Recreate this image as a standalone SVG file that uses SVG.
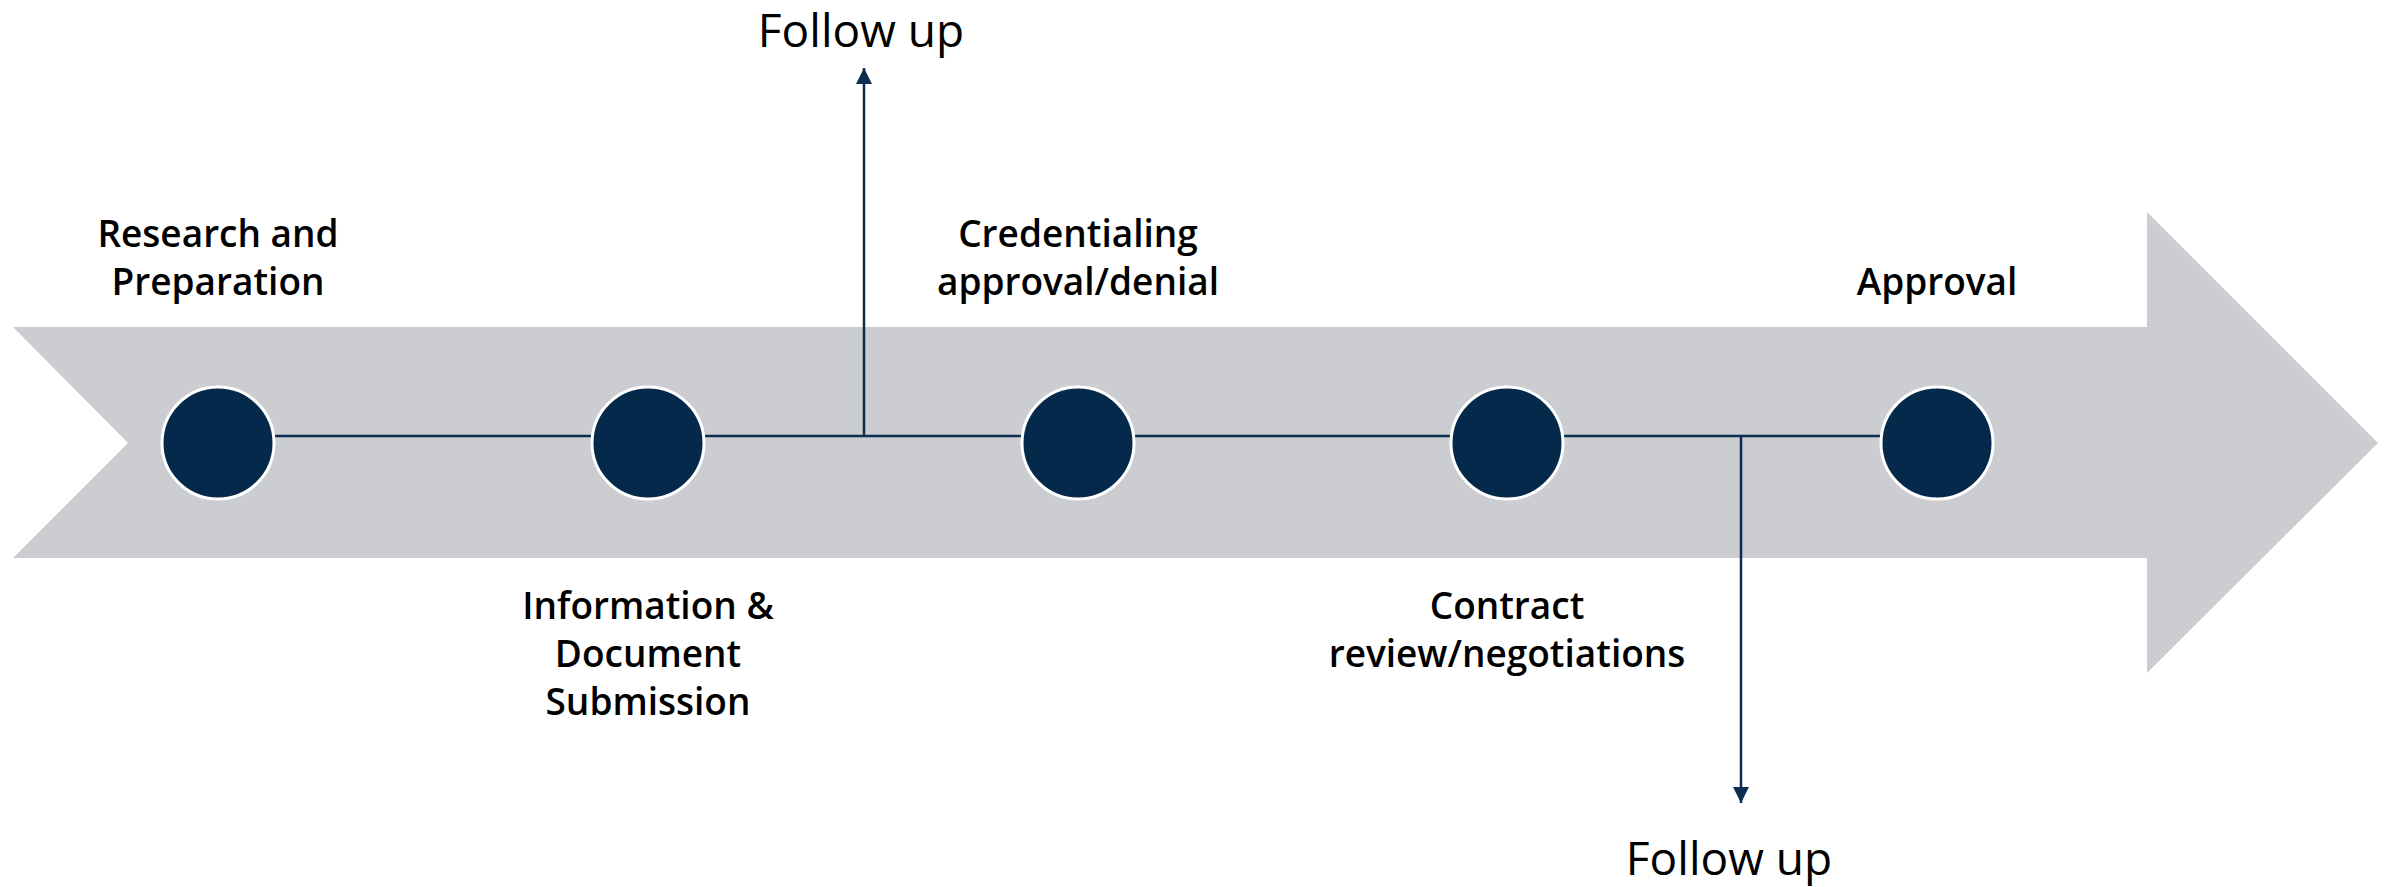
<svg xmlns="http://www.w3.org/2000/svg" width="2397" height="887" viewBox="0 0 2397 887">
<style>
.lbl{font-family:"Open Sans","Noto Sans",sans-serif;font-weight:600;font-size:37px;fill:#000;text-anchor:middle}
.fu{font-family:"Open Sans","Noto Sans",sans-serif;font-weight:400;font-size:46px;fill:#000;text-anchor:middle}
.dot{fill:#05294a;stroke:#fff;stroke-width:3}
.conn{stroke:#0b2d50;stroke-width:2.5;fill:none}
</style>
<defs>
<marker id="ah" viewBox="0 0 10 10" refX="10" refY="5" markerWidth="6.5" markerHeight="6.5" orient="auto" markerUnits="strokeWidth">
<path d="M0,0 L10,5 L0,10 Z" fill="#0b2d50"/>
</marker>
</defs>
<rect width="2397" height="887" fill="#fff"/>
<g id="band">
<polygon points="13,327 2147,327 2147,212 2378,443 2147,673 2147,558 13,558 128,443" fill="#cbcdd1"/>
</g>
<g id="connectors">
<line class="conn" x1="218" y1="436" x2="1937" y2="436"/>
<line class="conn" x1="864" y1="436" x2="864" y2="68" marker-end="url(#ah)"/>
<line class="conn" x1="1741" y1="436" x2="1741" y2="803" marker-end="url(#ah)"/>
</g>
<g id="n1"><circle class="dot" cx="218" cy="443" r="56"/><text class="lbl" x="218" y="247">Research and</text><text class="lbl" x="218" y="295">Preparation</text></g>
<g id="n2"><circle class="dot" cx="648" cy="443" r="56"/><text class="lbl" x="648" y="619">Information &amp;</text><text class="lbl" x="648" y="667">Document</text><text class="lbl" x="648" y="715">Submission</text></g>
<g id="n3"><circle class="dot" cx="1078" cy="443" r="56"/><text class="lbl" x="1078" y="247">Credentialing</text><text class="lbl" x="1078" y="295">approval/denial</text></g>
<g id="n4"><circle class="dot" cx="1507" cy="443" r="56"/><text class="lbl" x="1507" y="619">Contract</text><text class="lbl" x="1507" y="667">review/negotiations</text></g>
<g id="n5"><circle class="dot" cx="1937" cy="443" r="56"/><text class="lbl" x="1937" y="295">Approval</text></g>
<g id="fu1"><text class="fu" x="861" y="47">Follow up</text></g>
<g id="fu2"><text class="fu" x="1729" y="875">Follow up</text></g>
</svg>
